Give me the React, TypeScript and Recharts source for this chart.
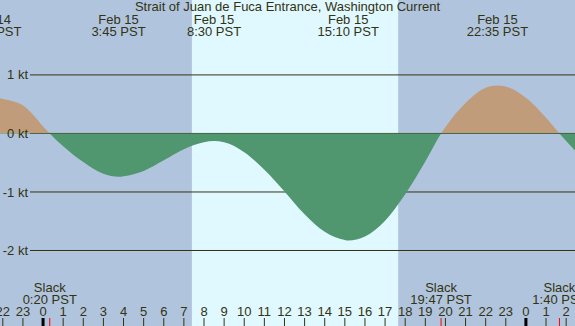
import { AreaChart, Area, XAxis, YAxis, ReferenceArea, ReferenceLine } from "recharts";

const W = 575;
const H = 326;
const INK = "#333311";
const FONT = "'Liberation Sans', Arial, sans-serif";
const FS = 13;

// hours from midnight Feb 15 (negative = Feb 14), current in knots
const times = [
    -2.14, -2, -1.5, -1, -0.5, 0, 0.333, 1, 2, 3, 3.75, 4, 5, 6, 7, 8, 8.5, 9, 10, 11, 12,
    13, 14, 15, 15.167, 16, 17, 18, 19, 19.783, 20, 21, 22, 22.583, 23, 24, 25, 25.667, 26, 26.44,
];
const knots = [
    0.6, 0.59, 0.55, 0.48, 0.32, 0.12, 0, -0.22, -0.49, -0.69, -0.74, -0.73, -0.64, -0.46, -0.27,
    -0.15, -0.13, -0.15, -0.32, -0.62, -0.99, -1.38, -1.68, -1.82, -1.83, -1.76, -1.49, -1.04,
    -0.48, 0, 0.11, 0.52, 0.78, 0.82, 0.8, 0.61, 0.27, 0, -0.13, -0.29,
];

const hourTicks = [
    -2, -1, 0, 1, 2, 3, 4, 5, 6, 7, 8, 9, 10, 11, 12, 13, 14, 15, 16, 17, 18, 19, 20, 21, 22,
    23, 24, 25, 26,
];
const levelTicks = [1, 0, -1, -2];

const slackTimes = [0.333, 19.783, 25.667];
const slackLabels = ["0:20 PST", "19:47 PST", "1:40 PST"];

const peakTimes = [-2.6, 3.75, 8.5, 15.167, 22.583];
const peakDates = ["Feb 14", "Feb 15", "Feb 15", "Feb 15", "Feb 15"];
const peakLabels = ["21:24 PST", "3:45 PST", "8:30 PST", "15:10 PST", "22:35 PST"];

const sunrise = 7.4;
const sunset = 17.65;

const xDomain: [number, number] = [-2.14, 26.44];
const yDomain: [number, number] = [-3.29, 2.28];

const data = times.map((t, i) => ({ t, v: knots[i] }));
const zeroOffset = yDomain[1] / (yDomain[1] - yDomain[0]);

const NIGHT = "#b0c4de";
const DAY = "#e0f8ff";
const FLOOD = "#c09c7a";
const EBB = "#50966e";

const HourTick = (props: any) => {
    const { x, y, payload } = props;
    const h = ((payload.value % 24) + 24) % 24;
    const midnight = h === 0;
    return (
        <g>
            <line x1={x} x2={x} y1={y + 2} y2={y + 10} stroke={midnight ? "#000" : INK} strokeWidth={midnight ? 3 : 1} />
            <text x={x} y={y} textAnchor="middle" fill={INK} fontSize={FS}>{h}</text>
        </g>
    );
};

const SlackTick = (props: any) => {
    const { x, y, index } = props;
    return (
        <g>
            <line x1={x} x2={x} y1={y + 2} y2={y + 10} stroke="#ff0000" strokeWidth={1} />
            <text x={x} y={y - 24} textAnchor="middle" fill={INK} fontSize={FS}>Slack</text>
            <text x={x} y={y - 12} textAnchor="middle" fill={INK} fontSize={FS}>{slackLabels[index]}</text>
        </g>
    );
};

const LevelTick = (props: any) => {
    const { x, y, payload } = props;
    return (
        <text x={x} y={y} dy="0.35em" textAnchor="end" fill={INK} fontSize={FS}>
            {payload.value} kt
        </text>
    );
};

const PeakLabel = (props: any) => {
    const { viewBox, date, time } = props;
    if (!viewBox) return null;
    return (
        <g>
            <text x={viewBox.x} y={24} textAnchor="middle" fill={INK} fontSize={FS}>{date}</text>
            <text x={viewBox.x} y={36} textAnchor="middle" fill={INK} fontSize={FS}>{time}</text>
        </g>
    );
};

export default function App() {
    return (
        <div style={{ position: "absolute", left: 0, top: 0, width: W, height: H, fontFamily: FONT }}>
            <AreaChart width={W} height={H} data={data} margin={{ top: 0, right: 0, bottom: 0, left: 0 }} style={{ fontFamily: FONT }}>
                <defs>
                    <linearGradient id="tideFill" gradientUnits="userSpaceOnUse" x1="0" y1="0" x2="0" y2={H}>
                        <stop offset={zeroOffset} stopColor={FLOOD} />
                        <stop offset={zeroOffset} stopColor={EBB} />
                    </linearGradient>
                </defs>
                <XAxis
                    dataKey="t"
                    type="number"
                    domain={xDomain}
                    allowDataOverflow
                    ticks={hourTicks}
                    interval={0}
                    mirror
                    height={1}
                    axisLine={false}
                    tickLine={false}
                    tickSize={8}
                    tickMargin={2}
                    tick={<HourTick />}
                />
                <XAxis
                    xAxisId="slack"
                    dataKey="t"
                    type="number"
                    domain={xDomain}
                    allowDataOverflow
                    ticks={slackTimes}
                    interval={0}
                    mirror
                    height={1}
                    axisLine={false}
                    tickLine={false}
                    tickSize={8}
                    tickMargin={1}
                    tick={<SlackTick />}
                />
                <YAxis
                    type="number"
                    domain={yDomain}
                    allowDataOverflow
                    ticks={levelTicks}
                    interval={0}
                    mirror
                    axisLine={false}
                    tickLine={false}
                    tickSize={0}
                    tickMargin={28}
                    tick={<LevelTick />}
                />
                <ReferenceArea x1={xDomain[0]} x2={sunrise} fill={NIGHT} fillOpacity={1} zIndex={-300} ifOverflow="hidden" />
                <ReferenceArea x1={sunrise} x2={sunset} fill={DAY} fillOpacity={1} zIndex={-300} ifOverflow="hidden" />
                <ReferenceArea x1={sunset} x2={xDomain[1]} fill={NIGHT} fillOpacity={1} zIndex={-300} ifOverflow="hidden" />
                {levelTicks.map((k) => (
                    <ReferenceLine
                        key={k}
                        segment={[{ x: -0.65, y: k }, { x: xDomain[1], y: k }]}
                        stroke={INK}
                        strokeWidth={1}
                        zIndex={-200}
                    />
                ))}
                <Area
                    type="monotone"
                    dataKey="v"
                    baseValue={0}
                    stroke="none"
                    fill="url(#tideFill)"
                    fillOpacity={1}
                    dot={false}
                    activeDot={false}
                    isAnimationActive={false}
                />
                {peakTimes.map((t, i) => (
                    <ReferenceLine
                        key={t}
                        x={t}
                        stroke="none"
                        ifOverflow="visible"
                        label={<PeakLabel date={peakDates[i]} time={peakLabels[i]} />}
                    />
                ))}
            </AreaChart>
            <div
                style={{
                    position: "absolute",
                    left: 0,
                    top: 0,
                    width: W,
                    textAlign: "center",
                    fontSize: FS,
                    lineHeight: "14px",
                    color: INK,
                }}
            >
                Strait of Juan de Fuca Entrance, Washington Current
            </div>
        </div>
    );
}
